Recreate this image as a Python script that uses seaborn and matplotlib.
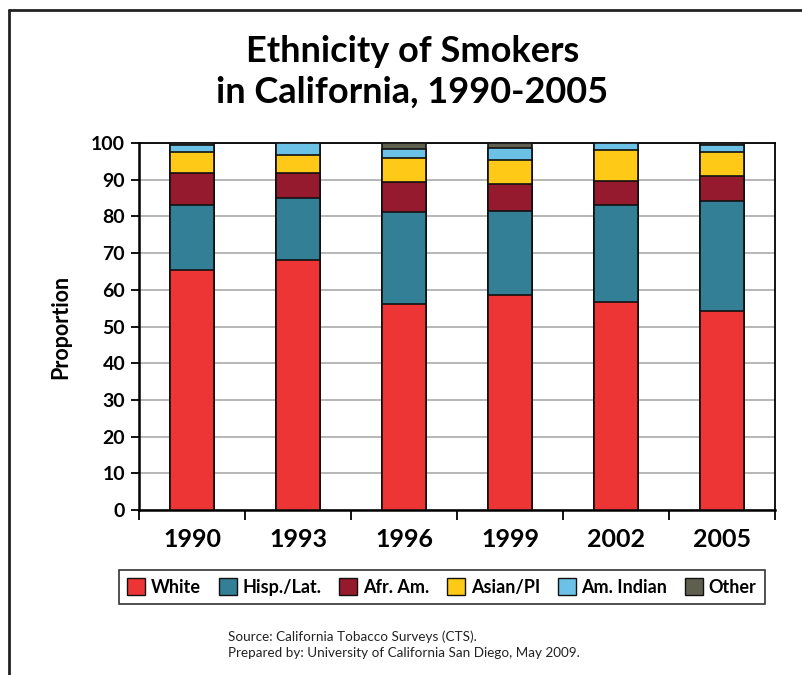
import matplotlib
matplotlib.use("Agg")
import matplotlib.pyplot as plt
from matplotlib.lines import Line2D
from matplotlib.patches import Patch
import numpy as np
import pandas as pd
import seaborn as sns

years = ["1990", "1993", "1996", "1999", "2002", "2005"]
groups = ["White", "Hisp./Lat.", "Afr. Am.", "Asian/PI", "Am. Indian", "Other"]
white = [65.5, 68.2, 56.0, 58.6, 56.7, 54.1]
hisp = [17.7, 16.8, 25.2, 22.9, 26.5, 30.0]
afr = [8.6, 6.8, 8.1, 7.4, 6.4, 6.8]
asian = [5.8, 4.9, 6.6, 6.5, 8.4, 6.7]
amind = [1.9, 3.3, 2.4, 3.2, 1.9, 1.9]
other = [0.5, 0.0, 1.7, 1.4, 0.1, 0.5]
colors = ["#EE3536", "#327F96", "#961A2D", "#FFCA17", "#6CC1E7", "#5F5F4F"]

series = [white, hisp, afr, asian, amind, other]

sns.set_theme(style="white")
plt.rcParams["font.family"] = ["Lato", "DejaVu Sans"]
plt.rcParams["text.color"] = "black"
plt.rcParams["axes.labelcolor"] = "black"
plt.rcParams["xtick.color"] = "black"
plt.rcParams["ytick.color"] = "black"

fig = plt.figure(figsize=(8.02, 6.75), dpi=100)
ax = fig.add_axes([139/802, 1-510/675, (775-139)/802, (510-143)/675])

df = pd.DataFrame({"year": years})
cum = np.zeros(len(years))
cums = []
for s in series:
    cum = cum + np.array(s)
    cums.append(cum.copy())

for i in range(len(groups) - 1, -1, -1):
    df["v"] = cums[i]
    sns.barplot(data=df, x="year", y="v", color=colors[i], saturation=1,
                width=0.41, edgecolor="#111111", linewidth=1.2, ax=ax, zorder=3)

ax.set_ylim(0, 100)
ax.set_xlim(-0.5, 5.5)
ax.set_yticks(range(0, 101, 10))
ax.yaxis.grid(True, color="#AAAAAA", linewidth=1.2, zorder=0)
ax.set_axisbelow(True)
for sp in ax.spines.values():
    sp.set_visible(True)
    sp.set_color("black")
    sp.set_linewidth(1.3)
ax.spines["left"].set_linewidth(1.8)
ax.spines["bottom"].set_linewidth(1.8)

ax.set_xticks(range(6))
ax.set_xticklabels(years, fontsize=18, fontweight="bold", color="black")
ax.tick_params(axis="x", length=0, pad=13)
ax.set_xticks(np.arange(-0.5, 5.6, 1), minor=True)
ax.tick_params(axis="x", which="minor", length=7, width=1.3, color="black", direction="out", bottom=True)
ax.tick_params(axis="y", length=6, width=1.3, color="black", labelcolor="black", direction="out", left=True, pad=4)
for t in ax.get_yticklabels():
    t.set_fontsize(14)
    t.set_fontweight("bold")
ax.set_xlabel("")
ax.set_ylabel("Proportion", fontsize=15.5, fontweight="bold", labelpad=14, color="black")

fig.text(0.514, 0.894, "Ethnicity of Smokers\nin California, 1990-2005", ha="center", va="center",
         fontsize=26, fontweight="bold", linespacing=1.28, color="black")

handles = [Patch(facecolor=c, edgecolor="#111111", linewidth=1.0) for c in colors]
leg = fig.legend(handles, groups, loc="center", bbox_to_anchor=(442/802, 1-587/675), ncol=6,
                 frameon=True, fancybox=False, edgecolor="black", handlelength=1.0, handleheight=1.0,
                 handletextpad=0.3, columnspacing=1.0, borderpad=0.45,
                 prop={"size": 13, "weight": "bold"})
for t in leg.get_texts():
    t.set_color("black")
leg.get_frame().set_linewidth(1.2)

fig.text(228/802, 1-645/675, "Source: California Tobacco Surveys (CTS).\nPrepared by: University of California San Diego, May 2009.",
         ha="left", va="center", fontsize=9.7, color="#222222", linespacing=1.4)

fig.add_artist(Line2D([9/802, 9/802], [0, 1-10/675], transform=fig.transFigure, color="#222222", linewidth=2))
fig.add_artist(Line2D([9/802, 1], [1-10/675, 1-10/675], transform=fig.transFigure, color="#222222", linewidth=2))

fig.savefig("out.png", dpi=100)
